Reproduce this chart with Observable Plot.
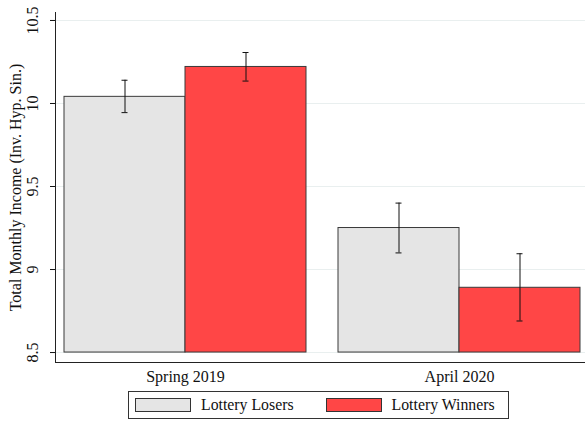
<!DOCTYPE html>
<html>
<head>
<meta charset="utf-8">
<script src="https://cdn.jsdelivr.net/npm/d3@7"></script>
<script src="https://cdn.jsdelivr.net/npm/@observablehq/plot@0.6"></script>
<style>
  body { margin: 0; background: #fff; font-family: "Liberation Serif", serif; overflow: hidden; }
  #legend { box-sizing: border-box; margin: 3px 0 0 128px; width: 381px; height: 28px; border: 1px solid #333;
            display: flex; align-items: center; font-size: 15.8px; color: #111; }
  .sw { width: 56px; height: 14px; border: 1px solid #333; box-sizing: border-box; margin-left: 6px; margin-right: 10px; }
</style>
</head>
<body>
<div id="chart"></div>
<div id="legend"></div>
<script>
const periods = ["Spring 2019", "April 2020"];
const groups = ["Lottery Losers", "Lottery Winners"];
const meanValues = [[10.04, 10.22], [9.25, 8.89]];
const ciLow = [[9.945, 10.135], [9.10, 8.69]];
const ciHigh = [[10.14, 10.307], [9.40, 9.095]];
const yTicks = [8.5, 9, 9.5, 10, 10.5];
const baseline = 8.5;
const yDomain = [8.44, 10.548];
const colors = ["#e5e5e5", "#ff4646"];

const rows = [];
periods.forEach((p, i) => groups.forEach((g, j) => rows.push({
  period: p, group: g, mean: meanValues[i][j], lo: ciLow[i][j], hi: ciHigh[i][j]
})));
const losers = rows.filter(d => d.group === groups[0]);
const winners = rows.filter(d => d.group === groups[1]);

const half = 121;   // half of the period band: one bar per group
const capInset = 118;
const font = "Liberation Serif";

function groupMarks(data, side) {
  const isLeft = side === "left";
  const dx = isLeft ? -half / 2 : half / 2;
  return [
    Plot.barY(data, { x: "period", y1: () => baseline, y2: "mean", fill: "group",
                      stroke: "#3a3a3a", strokeWidth: 1,
                      insetLeft: isLeft ? 0 : half, insetRight: isLeft ? half : 0 }),
    Plot.ruleX(data, { x: "period", y1: "lo", y2: "hi", dx, stroke: "#111", strokeWidth: 1 }),
    Plot.tickY(data, { x: "period", y: "lo", dx, stroke: "#111", insetLeft: capInset, insetRight: capInset }),
    Plot.tickY(data, { x: "period", y: "hi", dx, stroke: "#111", insetLeft: capInset, insetRight: capInset })
  ];
}

const plot = Plot.plot({
  width: 585, height: 388,
  marginLeft: 55, marginRight: 0, marginTop: 12, marginBottom: 26,
  style: { fontFamily: font, fontSize: "16px", color: "#111", background: "#fff" },
  x: { domain: periods, paddingInner: 0.1168, paddingOuter: 0.0255, align: 0.64, axis: null },
  y: { domain: yDomain, axis: null },
  color: { domain: groups, range: colors },
  marks: [
    Plot.ruleY(yTicks, { stroke: "#e9efef", strokeWidth: 1 }),
    ...groupMarks(losers, "left"),
    ...groupMarks(winners, "right"),
    Plot.ruleY([yDomain[0]], { stroke: "#222", strokeWidth: 1 }),
    Plot.frame({ anchor: "left", stroke: "#222" }),
    Plot.axisY({ anchor: "left", ticks: yTicks, tickSize: 5, tickPadding: 13, tickRotate: -90,
                 tickFormat: d3.format("~g"),
                 label: "Total Monthly Income (Inv. Hyp. Sin.)", labelAnchor: "center", labelArrow: "none", labelOffset: 46,
                 fontSize: 16 }),
    Plot.axisX({ anchor: "bottom", tickSize: 0, tickPadding: 8, label: null, fontSize: 16 })
  ]
});
document.getElementById("chart").appendChild(plot);

const legend = document.getElementById("legend");
groups.forEach((g, i) => {
  const sw = document.createElement("div");
  sw.className = "sw";
  sw.style.background = colors[i];
  if (i > 0) sw.style.marginLeft = "32px";
  const lab = document.createElement("span");
  lab.textContent = g;
  legend.appendChild(sw);
  legend.appendChild(lab);
});
</script>
</body>
</html>
